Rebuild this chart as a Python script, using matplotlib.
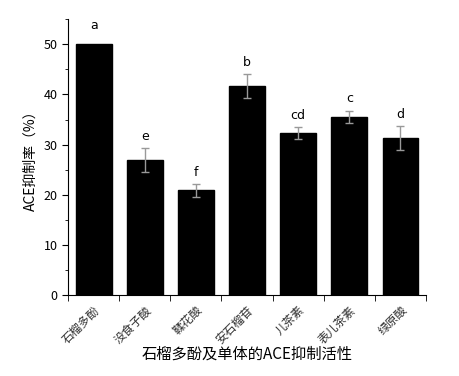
import numpy as np
import matplotlib.pyplot as plt
from matplotlib.ticker import MultipleLocator, FixedLocator

plt.rcParams['font.family'] = ['Noto Sans CJK SC', 'DejaVu Sans']

categories = ['石榴多酚', '没食子酸', '鞣花酸', '安石榴苷', '儿茶素', '表儿茶素', '绿原酸']
values = [50.0, 27.0, 20.9, 41.6, 32.3, 35.6, 31.4]
errors = [0.0, 2.4, 1.3, 2.4, 1.2, 1.2, 2.4]
letters = ['a', 'e', 'f', 'b', 'cd', 'c', 'd']

fig = plt.figure(figsize=(4.6, 3.76), dpi=100)
ax = fig.add_axes([0.148, 0.215, 0.778, 0.734])

x = np.arange(len(categories))
ax.bar(x, values, width=0.7, color='black', edgecolor='black')
# first bar has no error bar
ax.errorbar(x[1:], values[1:], yerr=errors[1:], fmt='none', ecolor='#999999',
            elinewidth=1, capsize=3, capthick=1)

for xi, v, e, lab in zip(x, values, errors, letters):
    top = v + e + 1.0 if e > 0 else v + 2.5
    ax.text(xi, top, lab, ha='center', va='bottom', fontsize=9, family='DejaVu Sans')

ax.set_xlim(-0.5, len(categories) - 0.5)
ax.set_ylim(0, 55)
ax.spines['top'].set_visible(False)
ax.spines['right'].set_visible(False)

ax.set_xticks(x)
ax.set_xticklabels(categories, rotation=45, ha='right', rotation_mode='anchor', fontsize=8.5, color='#333333')
ax.tick_params(axis='x', which='major', length=0, pad=6)
ax.xaxis.set_minor_locator(FixedLocator(np.arange(-0.5, len(categories), 1.0)))
ax.tick_params(axis='x', which='minor', length=4, direction='out')

ax.set_yticks([0, 10, 20, 30, 40, 50])
ax.yaxis.set_minor_locator(MultipleLocator(5))
ax.tick_params(axis='y', which='major', length=4, labelsize=9)
ax.tick_params(axis='y', which='minor', length=2)

ax.set_ylabel('ACE抑制率（%）', fontsize=10)
ax.set_xlabel('石榴多酚及单体的ACE抑制活性', fontsize=11, labelpad=0)

plt.savefig('out.png', dpi=100)
